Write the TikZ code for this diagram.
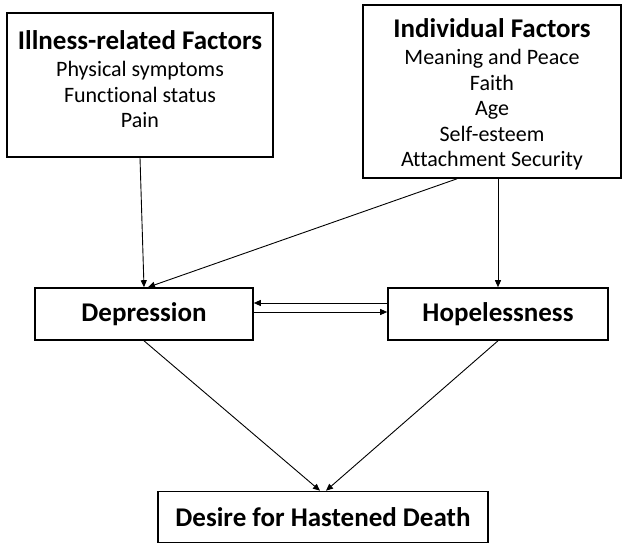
\documentclass[tikz,border=0pt]{standalone}
\usepackage{fontspec}
\setmainfont{Carlito}[Ligatures=NoCommon]
\usetikzlibrary{arrows.meta,positioning,calc}

\tikzset{
  frame/.style={draw, line width=1.6pt, inner sep=0pt},
  conn/.style={draw, line width=0.9pt, -{Triangle[length=7pt,width=6pt]}},
  head/.style={font=\fontsize{27}{30}\selectfont\bfseries},
  items/.style={align=center, font=\fontsize{22}{25.5}\selectfont, inner sep=0pt}
}
\newcommand{\boxtitle}[1]{{\fontsize{27}{25.5}\selectfont\bfseries #1}\\[2pt]}

\begin{document}
\begin{tikzpicture}[x=1pt,y=-1pt]
        \useasboundingbox (0,0) rectangle (630,545);

        % factor boxes
        \node[frame, minimum width=266, minimum height=144] (ill) at (140,85) {};
        \node[frame, minimum width=258, minimum height=173] (ind) at (492,91.5) {};
        \node[items, anchor=base] (illtext) at (140,128)
            {\boxtitle{Illness-related Factors} Physical symptoms\\ Functional status\\ Pain};
        \node[items, anchor=base] (indtext) at (492,167)
            {\boxtitle{Individual Factors} Meaning and Peace\\ Faith\\ Age\\ Self-esteem\\ Attachment Security};

        % outcome boxes
        \node[frame, head, minimum width=218, minimum height=52] (dep) at (144,314) {Depression};
        \node[frame, head, minimum width=220, minimum height=52] (hop) at (498,314) {Hopelessness};
        \node[frame, head, minimum width=330, minimum height=51] (dhd) at (323,517) {Desire for Hastened Death};

        \draw[conn] (ill.south) -- (dep.north);
        \draw[conn] ($(ind.south)+(-35,0)$) -- ($(dep.north)+(4,0)$);
        \draw[conn] (ind.south -| hop.north) -- (hop.north);
        \draw[conn] ([yshift=11pt]hop.west) -- ([yshift=11pt]dep.east);
        \draw[conn] ([yshift=2pt]dep.east) -- ([yshift=2pt]hop.west);
        \draw[conn] (dep.south) -- ($(dhd.north)+(-3,0)$);
        \draw[conn] (hop.south) -- ($(dhd.north)+(3,0)$);

    \end{tikzpicture}
\end{document}
